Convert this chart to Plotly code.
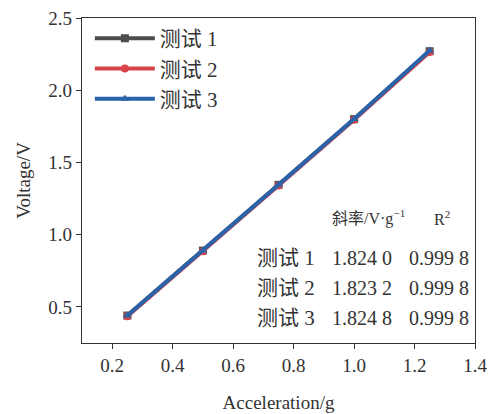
import plotly.graph_objects as go

accel = [0.25, 0.5, 0.75, 1.0, 1.25]
series_names = ["测试 1", "测试 2", "测试 3"]
volt1 = [0.44, 0.89, 1.345, 1.80, 2.27]
volt2 = [0.435, 0.885, 1.34, 1.795, 2.265]
volt3 = [0.44, 0.89, 1.345, 1.80, 2.275]
series_vals = [volt1, volt2, volt3]
colors = ["#4d4d4d", "#d8424a", "#2b63a9"]
symbols = ["square", "circle", "triangle-up"]

table_header = ["斜率/V·g<sup>−1</sup>", "R<sup>2</sup>"]
slopes = ["1.824 0", "1.823 2", "1.824 8"]
r2 = ["0.999 8", "0.999 8", "0.999 8"]

serif = "Times New Roman, Liberation Serif, DejaVu Serif, serif"
cjk = "Times New Roman, Liberation Serif, Noto Sans CJK SC, serif"

fig = go.Figure()
for name, vals, c, s in zip(series_names, series_vals, colors, symbols):
    fig.add_trace(go.Scatter(
        x=accel, y=vals, name=name, mode="lines+markers",
        line=dict(color=c, width=4),
        marker=dict(symbol=s, size=8, color=c),
    ))

ann = []
ann.append(dict(x=0.63, y=0.385, xref="paper", yref="paper", xanchor="left", yanchor="middle",
                text=table_header[0], showarrow=False, font=dict(size=16, family=cjk, color="#333")))
ann.append(dict(x=0.89, y=0.385, xref="paper", yref="paper", xanchor="left", yanchor="middle",
                text=table_header[1], showarrow=False, font=dict(size=16, family=serif, color="#333")))
row_y = [0.2615, 0.169, 0.077]
for i in range(3):
    ann.append(dict(x=0.44, y=row_y[i], xref="paper", yref="paper", xanchor="left", yanchor="middle",
                    text=series_names[i], showarrow=False, font=dict(size=21, family=cjk, color="#333")))
    ann.append(dict(x=0.63, y=row_y[i], xref="paper", yref="paper", xanchor="left", yanchor="middle",
                    text=slopes[i], showarrow=False, font=dict(size=20, family=serif, color="#333")))
    ann.append(dict(x=0.826, y=row_y[i], xref="paper", yref="paper", xanchor="left", yanchor="middle",
                    text=r2[i], showarrow=False, font=dict(size=20, family=serif, color="#333")))

fig.update_layout(
    width=488, height=414,
    margin=dict(l=82, r=13, t=18, b=71),
    paper_bgcolor="white", plot_bgcolor="white",
    font=dict(family=serif, size=19, color="#333"),
    showlegend=True,
    legend=dict(x=0.02, y=1.0, xanchor="left", yanchor="top", bgcolor="rgba(0,0,0,0)",
                font=dict(size=21, family=cjk, color="#333"), itemwidth=60, tracegroupgap=0),
    annotations=ann,
    xaxis=dict(range=[0.1, 1.4], tickvals=[0.2, 0.4, 0.6, 0.8, 1.0, 1.2, 1.4],
               ticktext=["0.2", "0.4", "0.6", "0.8", "1.0", "1.2", "1.4"],
               tickfont=dict(family=serif, size=19), automargin=False,
               ticks="outside", ticklen=5, tickcolor="#333", showgrid=False, zeroline=False,
               showline=True, linecolor="#333", linewidth=1.2, mirror=True,
               title=dict(text="Acceleration/g", font=dict(size=19, family=serif), standoff=20)),
    yaxis=dict(range=[0.25, 2.5], tickvals=[0.5, 1.0, 1.5, 2.0, 2.5],
               ticktext=["0.5", "1.0", "1.5", "2.0", "2.5"],
               tickfont=dict(family=serif, size=19), automargin=False,
               ticks="outside", ticklen=5, tickcolor="#333", showgrid=False, zeroline=False,
               showline=True, linecolor="#333", linewidth=1.2, mirror=True,
               title=dict(text="Voltage/V", font=dict(size=19, family=serif), standoff=12)),
)

fig.write_html("out.html")
